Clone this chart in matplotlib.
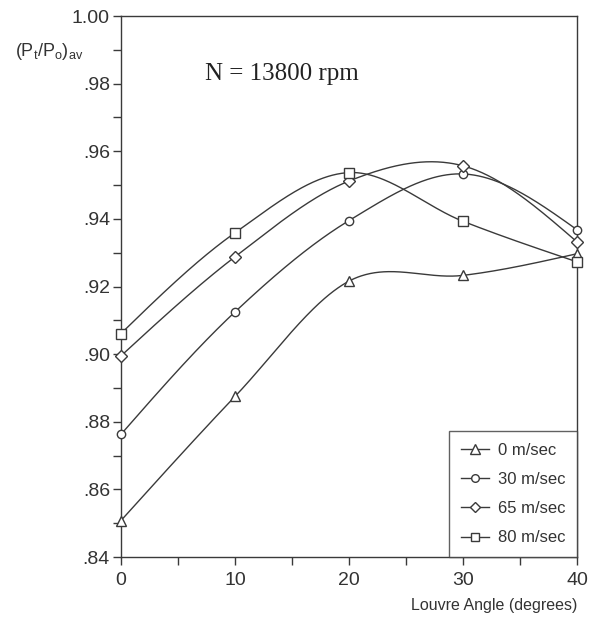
import numpy as np
import matplotlib
matplotlib.use("Agg")
import matplotlib.pyplot as plt

plt.rcParams['font.family'] = ['Liberation Sans', 'DejaVu Sans']
plt.rcParams['mathtext.default'] = 'regular'

# Louvre angle (degrees) and average total-pressure ratio for each speed
angles = [0, 10, 20, 30, 40]
p_0 = [0.8508, 0.8875, 0.9216, 0.9233, 0.9297]
p_30 = [0.8763, 0.9125, 0.9395, 0.9533, 0.9368]
p_65 = [0.8995, 0.9288, 0.9512, 0.9557, 0.9332]
p_80 = [0.9061, 0.9359, 0.9537, 0.9393, 0.9273]
series_labels = ['0 m/sec', '30 m/sec', '65 m/sec', '80 m/sec']
series_markers = ['^', 'o', 'D', 's']
x_ticks = [0, 10, 20, 30, 40]
y_ticks = [0.84, 0.86, 0.88, 0.90, 0.92, 0.94, 0.96, 0.98, 1.00]
y_tick_labels = ['.84', '.86', '.88', '.90', '.92', '.94', '.96', '.98', '1.00']


def smooth_curve(x, y, xs):
    """Catmull-Rom style Hermite curve through the points."""
    x = np.asarray(x, float)
    y = np.asarray(y, float)
    n = len(x)
    d = np.diff(y) / np.diff(x)
    m = np.zeros(n)
    m[1:-1] = (y[2:] - y[:-2]) / (x[2:] - x[:-2])
    m[0] = (3 * d[0] - m[1]) / 2
    m[-1] = (3 * d[-1] - m[-2]) / 2
    idx = np.clip(np.searchsorted(x, xs) - 1, 0, n - 2)
    h = x[idx + 1] - x[idx]
    t = (xs - x[idx]) / h
    h00 = 2 * t ** 3 - 3 * t ** 2 + 1
    h10 = t ** 3 - 2 * t ** 2 + t
    h01 = -2 * t ** 3 + 3 * t ** 2
    h11 = t ** 3 - t ** 2
    return h00 * y[idx] + h10 * h * m[idx] + h01 * y[idx + 1] + h11 * h * m[idx + 1]


fig = plt.figure(figsize=(5.95, 6.17), dpi=100)
ax = fig.add_axes([0.2034, 0.0972, 0.7663, 0.8768])

ink = '#3a3a3a'
xs = np.linspace(0, 40, 400)
sizes = {'^': 7.5, 'o': 6.0, 'D': 6.0, 's': 6.5}
handles = []
for vals, lab, mk in zip([p_0, p_30, p_65, p_80], series_labels, series_markers):
    ax.plot(xs, smooth_curve(angles, vals, xs), color=ink, lw=1.0, zorder=2)
    ax.plot(angles, vals, ls='none', marker=mk, ms=sizes[mk], mfc='white',
            mec=ink, mew=1.0, zorder=3, clip_on=False)
    h, = ax.plot([], [], color=ink, lw=1.0, marker=mk, ms=sizes[mk] - 0.5,
                 mfc='white', mec=ink, mew=1.0, label=lab)
    handles.append(h)

ax.set_xlim(0, 40)
ax.set_ylim(0.84, 1.00)
ax.set_xticks(x_ticks)
ax.set_xticks([5, 15, 25, 35], minor=True)
ax.set_yticks(y_ticks)
ax.set_yticklabels(y_tick_labels)
ax.set_yticks(np.arange(0.85, 1.0, 0.02), minor=True)
ax.tick_params(axis='both', which='both', direction='out', length=6,
               width=1.0, color=ink, labelcolor='#333333', labelsize=14)
ax.tick_params(axis='y', pad=2)
ax.tick_params(axis='x', pad=5)
for s in ax.spines.values():
    s.set_color(ink)
    s.set_linewidth(1.0)

ax.set_xlabel('Louvre Angle (degrees)', fontsize=11.5, color='#333333',
              loc='right', labelpad=6)
fig.text(15 / 595, 1 - 52 / 617, r'$(P_t/P_o)_{av}$', fontsize=13,
         color='#333333', va='center', ha='left')
ax.text(0.184, 0.892, 'N = 13800 rpm', transform=ax.transAxes,
        fontsize=18, family=['Liberation Serif'], color='#222222',
        va='center', ha='left')

leg = ax.legend(handles=handles, loc='lower right', fontsize=12,
                borderaxespad=0, frameon=True, fancybox=False,
                handlelength=1.7, handletextpad=0.5, labelspacing=0.85,
                borderpad=0.7, labelcolor='#333333')
leg.get_frame().set_edgecolor(ink)
leg.get_frame().set_linewidth(1.0)

fig.savefig('out.png', dpi=100)
